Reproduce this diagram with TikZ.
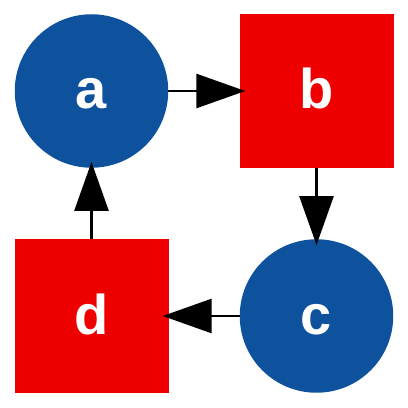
\documentclass[tikz,border=0pt]{standalone}
\usepackage{fontspec}
\setmainfont{Liberation Sans}
\usetikzlibrary{arrows.meta}
\definecolor{nblue}{RGB}{14,82,158}
\definecolor{nred}{RGB}{238,0,0}
\tikzset{
  lbl/.style={text=white, font=\fontsize{56}{56}\selectfont\bfseries, text height=36pt, text depth=0pt},
  circnode/.style={circle, fill=nblue, draw=none, minimum size=153.5pt, inner sep=0pt, lbl},
  sqnode/.style={rectangle, fill=nred, draw=none, minimum size=154pt, inner sep=0pt, lbl},
  edge/.style={line width=2.8pt, -{Triangle[length=49pt,width=34pt]}, shorten >=-6pt}
}
\begin{document}
\begin{tikzpicture}[x=1pt,y=1pt]
\useasboundingbox (0,0) rectangle (408,408);
\node[circnode] (a) at (91.5,317) {a};
\node[sqnode] (b) at (316.5,317) {b};
\node[circnode] (c) at (316.5,92) {c};
\node[sqnode] (d) at (91.5,92) {d};
\draw[edge] (a) -- (b);
\draw[edge] (b) -- (c);
\draw[edge] (c) -- (d);
\draw[edge] (d) -- (a);
\end{tikzpicture}
\end{document}
